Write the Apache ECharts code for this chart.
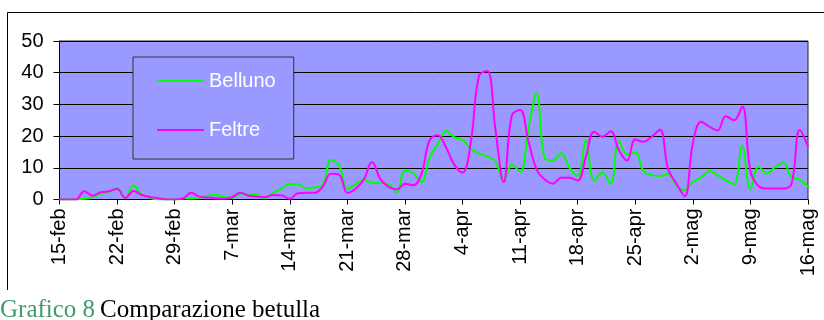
<!DOCTYPE html>
<html><head><meta charset="utf-8">
<script src="https://cdn.jsdelivr.net/npm/echarts@6/dist/echarts.min.js"></script>
<style>html,body{margin:0;padding:0;background:#fff}#c{width:824px;height:320px}</style>
</head><body><div id="c"></div>
<script>
const categories = (function(){
  const out = [];
  const months = [['feb',15,29],['mar',1,31],['apr',1,30],['mag',1,16]];
  for (const [m,a,b] of months) for (let d=a; d<=b; d++) out.push(d + '-' + m);
  return out;
})();
const belluno = [0,0,0,0.2,0.7,1.8,2.4,3.8,0.5,4.4,1.5,0.5,0,0,0,
  0.4,0.3,0.6,1.2,1.4,0.8,0.5,1.9,1.6,1.5,0.4,2.2,3.5,4.9,4.8,3.6,
  3.8,4.6,12.5,10.8,3.4,4.8,6.2,5.2,5.2,4.8,2.3,9.1,8.3,5.5,13.3,
  17.6,21.7,19.6,18.8,16,14.5,13.5,12,6,11,8.7,22,33.7,13,12.3,
  14.6,10,7.4,18.5,6,8.5,5,18.5,14.3,14.8,9,7.7,7.4,8,4.5,
  2.9,5.6,6.9,9,7.7,6.1,4.8,17,3.2,10.3,8.2,10.3,11.6,7,6.3,4];
const feltre = [0,0,0,2.6,1.2,2.3,2.6,3.3,0.5,2.7,1.4,0.8,0.4,0,0,
  0.3,2.1,0.9,0.6,0.4,0.3,0.8,2.1,1.2,0.9,0.8,1.4,1.3,0.2,2.0,2.1,
  2.1,4.0,8.1,7.8,2.1,3.4,6.3,11.8,6.5,4.0,3.2,5.0,4.5,8,18.7,
  20.3,16.4,11,8.5,18,39,40.5,22,5.5,26.5,28.2,18.5,9.5,6.3,5,
  6.9,6.9,6,13.5,21.4,19.8,21.5,15.6,12.3,18.9,18.2,19.8,22,9.5,5,
  1,17.7,24.5,23,21.8,26.3,25,29.3,9,4.2,3.5,3.5,3.5,5,21.9,16.6];
const seriesNames = ['Belluno','Feltre'];
const yTicks = [0,10,20,30,40,50];

const chart = echarts.init(document.getElementById('c'), null, {renderer:'canvas'});
const font = 'Liberation Sans, Arial, sans-serif';
chart.setOption({
  animation:false,
  backgroundColor:'#fff',
  grid:{left:59.5,right:16,top:41,bottom:120.5,show:true,backgroundColor:'#9999FF',borderColor:'#222',borderWidth:1},
  title:{text:'{a|Grafico 8} {b|Comparazione betulla}',left:0,top:298,padding:0,
    textStyle:{fontWeight:'normal',rich:{a:{fontFamily:'Liberation Serif, serif',fontSize:25,fontWeight:'normal',color:'#3f9a6e'},
                     b:{fontFamily:'Liberation Serif, serif',fontSize:25,fontWeight:'normal',color:'#000'}}}},
  legend:{orient:'vertical',left:133,top:57,padding:[14,18,19,24],itemGap:29,
    backgroundColor:'#9999FF',borderColor:'#333',borderWidth:1,
    icon:'rect',itemWidth:47,itemHeight:2,
    textStyle:{color:'#fff',fontSize:20,fontFamily:font,lineHeight:20},
    data:seriesNames},
  xAxis:{type:'category',data:categories,boundaryGap:false,
    axisLine:{lineStyle:{color:'#000'}},
    axisTick:{interval:6,length:5,lineStyle:{color:'#000'}},
    axisLabel:{interval:6,rotate:90,margin:9,fontSize:20,fontFamily:font,color:'#000'},
    splitLine:{show:false}},
  yAxis:{type:'value',min:yTicks[0],max:yTicks[yTicks.length-1],interval:10,
    axisLine:{show:true,lineStyle:{color:'#000'}},
    axisTick:{show:true,length:6,lineStyle:{color:'#000'}},
    axisLabel:{fontSize:20,fontFamily:font,color:'#000',margin:16},
    splitLine:{lineStyle:{color:'#000',width:1}}},
  graphic:[
    {type:'line',shape:{x1:7.5,y1:12.5,x2:824,y2:12.5},style:{stroke:'#000',lineWidth:1}},
    {type:'line',shape:{x1:7.5,y1:12.5,x2:7.5,y2:290},style:{stroke:'#000',lineWidth:1}}
  ],
  series:[
    {name:seriesNames[0],type:'line',data:belluno,smooth:0.4,symbol:'none',z:3,
      lineStyle:{color:'#00FF00',width:2},itemStyle:{color:'#00FF00'}},
    {name:seriesNames[1],type:'line',data:feltre,smooth:0.4,symbol:'none',z:4,
      lineStyle:{color:'#FF00FF',width:2},itemStyle:{color:'#FF00FF'}}
  ]
});
</script></body></html>
